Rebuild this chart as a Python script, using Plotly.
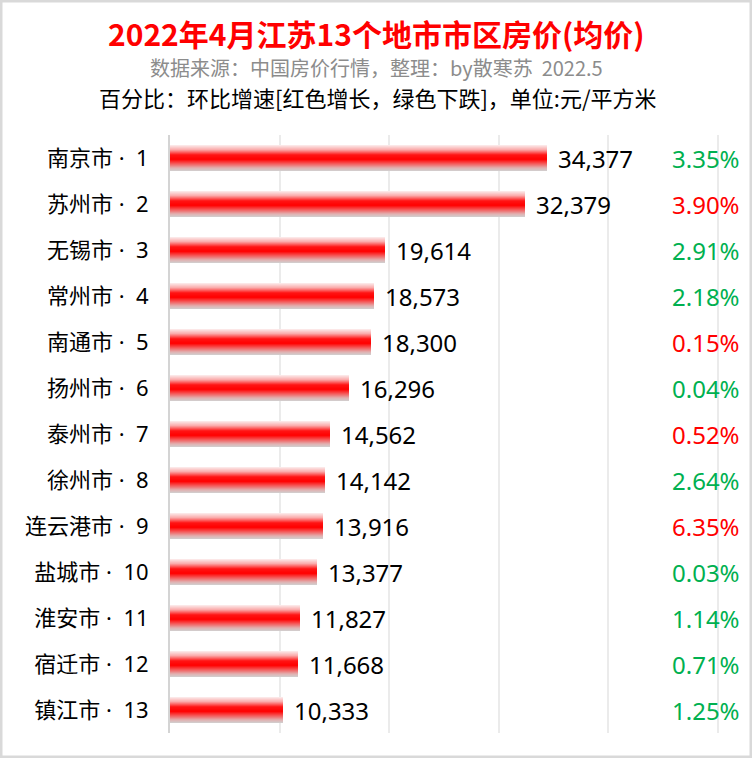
import plotly.graph_objects as go

# ---------------- data ----------------
cities = ["南京市", "苏州市", "无锡市", "常州市", "南通市", "扬州市", "泰州市",
          "徐州市", "连云港市", "盐城市", "淮安市", "宿迁市", "镇江市"]
ranks = list(range(1, 14))
avg_price = [34377, 32379, 19614, 18573, 18300, 16296, 14562,
             14142, 13916, 13377, 11827, 11668, 10333]
# month-on-month change (%): positive = growth (red), negative = decline (green)
mom_change = [-3.35, 3.90, -2.91, -2.18, 0.15, -0.04, 0.52,
              -2.64, 6.35, -0.03, -1.14, -0.71, -1.25]

title = "2022年4月江苏13个地市市区房价(均价)"
subtitle = "数据来源：中国房价行情，整理：by散寒苏  2022.5"
note = "百分比：环比增速[红色增长，绿色下跌]，单位:元/平方米"

labels = [f"{c}\u00a0·\u00a0\u00a0{r}" for c, r in zip(cities, ranks)]

# ---------------- layout geometry ----------------
W, H = 752, 758
ML, MR, MT, MB = 170, 10, 135, 25
PW, PH = W - ML - MR, H - MT - MB
XMAX = PW / 109.6 * 10000

FONT = "Noto Sans, Noto Sans CJK SC, sans-serif"
CJK = "Noto Sans CJK SC, sans-serif"
RED = "#ff0000"
GREEN = "#00b050"

def px_to_paper_x(px):
    return (px - ML) / PW

def px_to_paper_y(py):
    return (H - MB - py) / PH

# gradient stops (top -> bottom) for the bar fill
stops = [(0.0, (252, 238, 238)), (0.18, (250, 170, 170)), (0.38, (255, 20, 20)),
         (0.55, (255, 0, 0)), (0.72, (245, 90, 90)), (0.88, (225, 175, 175)),
         (1.0, (208, 208, 208))]

def grad(t):
    for (t0, c0), (t1, c1) in zip(stops[:-1], stops[1:]):
        if t0 <= t <= t1:
            f = (t - t0) / (t1 - t0) if t1 > t0 else 0
            c = [round(a + (b - a) * f) for a, b in zip(c0, c1)]
            return f"rgb({c[0]},{c[1]},{c[2]})"
    c = stops[-1][1]
    return f"rgb({c[0]},{c[1]},{c[2]})"

fig = go.Figure()

BAR_H = 0.565
N = 26
step = BAR_H / N
for k in range(N):
    t = (k + 0.5) / N
    fig.add_trace(go.Bar(
        x=avg_price, y=labels, orientation="h",
        width=step * 1.6 if k < N - 1 else step,
        offset=-BAR_H / 2 + k * step,
        marker=dict(color=grad(t), line=dict(width=0)),
        hoverinfo="skip", showlegend=False,
    ))

annotations = []
for lab, v, p in zip(labels, avg_price, mom_change):
    annotations.append(dict(
        x=v, y=lab, xref="x", yref="y", text=f"{v:,}", showarrow=False,
        xanchor="left", yanchor="middle", xshift=9,
        font=dict(family=FONT, size=24, color="#000000")))
    annotations.append(dict(
        x=1, y=lab, xref="paper", yref="y", text=f"{abs(p):.2f}%", showarrow=False,
        xanchor="right", yanchor="middle",
        font=dict(family=FONT, size=24, color=RED if p > 0 else GREEN)))

annotations += [
    dict(x=px_to_paper_x(376), y=px_to_paper_y(33), xref="paper", yref="paper",
         text=f"<b>{title}</b>", showarrow=False, xanchor="center", yanchor="middle",
         font=dict(family=CJK, size=30, color=RED)),
    dict(x=px_to_paper_x(376), y=px_to_paper_y(68), xref="paper", yref="paper",
         text=subtitle, showarrow=False, xanchor="center", yanchor="middle",
         font=dict(family=CJK, size=20, color="#8c8c8c")),
    dict(x=px_to_paper_x(378), y=px_to_paper_y(97), xref="paper", yref="paper",
         text=note, showarrow=False, xanchor="center", yanchor="middle",
         font=dict(family=CJK, size=22, color="#000000")),
]

fig.update_layout(
    width=W, height=H,
    margin=dict(l=ML, r=MR, t=MT, b=MB, pad=0),
    paper_bgcolor="white", plot_bgcolor="white",
    barmode="overlay", bargap=0,
    annotations=annotations,
    shapes=[dict(type="rect", xref="paper", yref="paper",
                 x0=px_to_paper_x(0), x1=px_to_paper_x(W),
                 y0=px_to_paper_y(H), y1=px_to_paper_y(0),
                 line=dict(color="#d9d9d9", width=5), fillcolor="rgba(0,0,0,0)",
                 layer="below")],
    xaxis=dict(range=[0, XMAX], dtick=10000, showgrid=True, gridcolor="#ebebeb",
               gridwidth=2, showticklabels=False, zeroline=False, showline=False,
               fixedrange=True),
    yaxis=dict(autorange="reversed", showgrid=False, showline=True,
               linecolor="#d4d4d4", linewidth=2, ticks="", ticklabelstandoff=15,
               tickfont=dict(family=FONT, size=22, color="#000000"),
               fixedrange=True),
    font=dict(family=FONT),
)

fig.write_html(
    "out.html",
    config={"displayModeBar": False},
    post_script="document.body.style.margin='0';document.body.style.padding='0';"
                "document.body.style.overflow='hidden';",
)
